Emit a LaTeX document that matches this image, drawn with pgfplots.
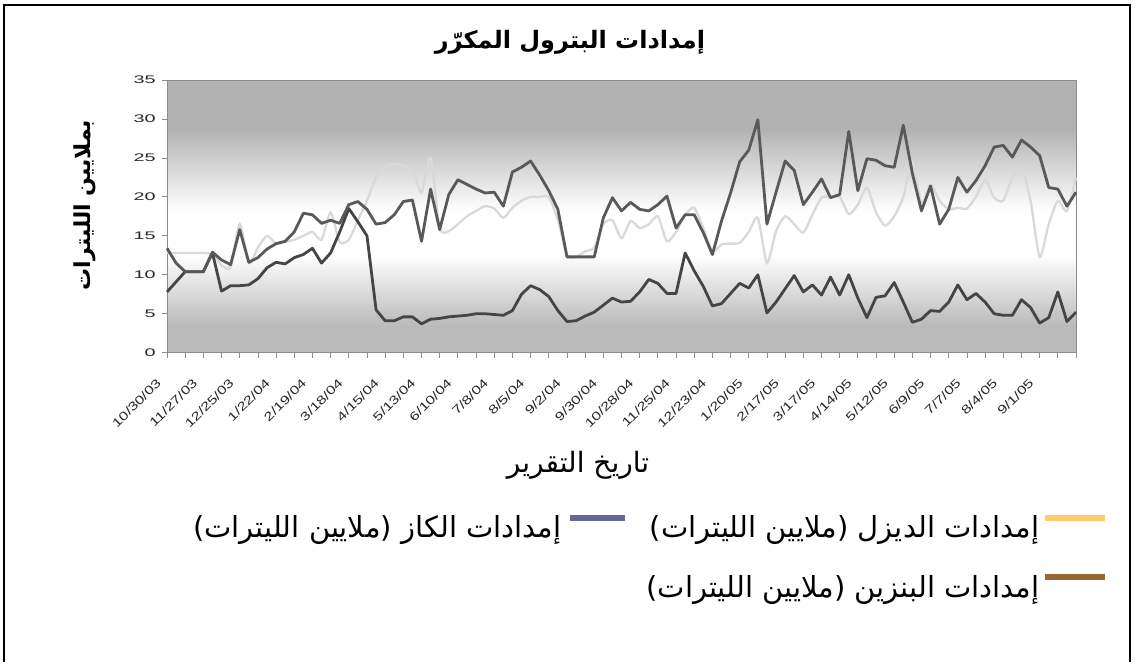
\documentclass[border=0pt]{standalone}
\usepackage{pgfplots}
\pgfplotsset{compat=1.18}
\usepackage{pgfplotstable}
\usepackage{fontspec}
\setmainfont{Liberation Sans}
\newfontfamily\arabicfont[Script=Arabic]{DejaVu Sans}
\TeXXeTstate=1

\definecolor{bgtop}{gray}{0.70}
\definecolor{bgbot}{gray}{0.73}
\definecolor{bgwhite}{gray}{1}
\definecolor{lightln}{gray}{0.85}
\definecolor{kerln}{gray}{0.27}
\definecolor{gasln}{gray}{0.35}
\definecolor{dieselc}{HTML}{FFCC66}
\definecolor{kerc}{HTML}{666699}
\definecolor{gasc}{HTML}{996633}
\definecolor{axgray}{gray}{0.55}
\definecolor{ticktxt}{gray}{0.15}

\pgfdeclareverticalshading{plotbg}{100bp}{color(0bp)=(bgbot); color(25bp)=(bgbot); color(30bp)=(bgbot); color(43bp)=(bgwhite); color(51bp)=(bgwhite); color(66bp)=(bgtop); color(75bp)=(bgtop); color(100bp)=(bgtop)}

% week, diesel, kerosene, gasoline
\pgfplotstableread{
w diesel kero gas
0 12.8 7.8 13.4
1 12.8 9.1 11.5
2 12.8 10.4 10.4
3 12.8 10.4 10.4
4 12.8 10.4 10.4
5 12.6 12.8 12.9
6 11.2 7.9 11.9
7 11.0 8.6 11.3
8 16.5 8.6 15.8
9 11.5 8.7 11.6
10 13.5 9.5 12.2
11 15.0 10.9 13.3
12 14.0 11.6 14.0
13 14.2 11.4 14.3
14 14.5 12.2 15.5
15 15.0 12.6 17.9
16 15.5 13.4 17.7
17 14.5 11.5 16.6
18 18.0 12.8 17.0
19 14.2 15.5 16.6
20 14.5 18.5 19.0
21 17.0 16.8 19.4
22 19.5 15.0 18.4
23 22.5 5.5 16.5
24 24.0 4.1 16.7
25 24.2 4.1 17.7
26 24.0 4.6 19.4
27 23.5 4.6 19.6
28 20.6 3.7 14.3
29 25.0 4.3 21.0
30 16.0 4.4 15.8
31 15.6 4.6 20.3
32 16.5 4.7 22.2
33 17.5 4.8 21.6
34 18.2 5.0 21.0
35 18.8 5.0 20.5
36 18.5 4.9 20.6
37 17.3 4.8 18.8
38 18.6 5.4 23.2
39 19.5 7.5 23.8
40 20.0 8.6 24.6
41 20.0 8.1 22.8
42 20.0 7.2 20.8
43 17.0 5.4 18.4
44 12.5 4.0 12.3
45 12.3 4.1 12.3
46 13.0 4.7 12.3
47 13.5 5.2 12.3
48 16.5 6.1 17.3
49 17.0 7.0 19.9
50 14.7 6.5 18.2
51 16.9 6.6 19.3
52 16.0 7.8 18.4
53 16.5 9.4 18.2
54 17.5 8.9 19.0
55 14.3 7.6 20.1
56 15.5 7.6 16.0
57 17.7 12.8 17.7
58 18.6 10.5 17.7
59 16.0 8.5 15.4
60 13.0 6.0 12.6
61 13.9 6.3 16.9
62 14.0 7.6 20.5
63 14.1 8.9 24.5
64 15.5 8.3 26.0
65 17.3 10.0 29.9
66 11.5 5.1 16.5
67 15.6 6.5 20.6
68 17.5 8.2 24.6
69 16.5 9.9 23.4
70 15.4 7.8 19.0
71 17.7 8.7 20.6
72 19.9 7.4 22.3
73 20.0 9.7 19.9
74 20.0 7.4 20.3
75 17.8 10.0 28.4
76 19.0 7.0 20.8
77 21.2 4.5 24.9
78 18.0 7.1 24.7
79 16.3 7.3 24.0
80 17.5 9.0 23.8
81 20.0 6.5 29.2
82 24.5 3.9 23.0
83 19.2 4.3 18.2
84 21.6 5.4 21.4
85 19.5 5.3 16.5
86 18.4 6.5 18.4
87 18.6 8.7 22.5
88 18.5 6.8 20.6
89 20.0 7.6 22.1
90 22.2 6.5 24.0
91 19.9 5.0 26.4
92 19.5 4.8 26.6
93 22.5 4.8 25.1
94 23.8 6.8 27.3
95 19.5 5.8 26.4
96 12.3 3.8 25.3
97 16.5 4.5 21.2
98 19.5 7.8 21.0
99 18.2 4.0 18.8
100 22.5 5.2 20.6
}\datatable

\begin{document}
\begin{tikzpicture}[x=1pt,y=1pt]
\useasboundingbox (0,0) rectangle (1135,662);
\draw[black,line width=1.2pt] (4,0) -- (4,657) -- (1130,657) -- (1130,0);

\begin{axis}[
  at={(167pt,309.3pt)}, anchor=south west,
  scale only axis, width=909pt, height=272.7pt,
  xmin=0, xmax=100, ymin=0, ymax=35,
  axis background/.style={shading=plotbg},
  axis line style={axgray, line width=0.8pt},
  tick align=outside, xtick pos=lower, ytick pos=left,
  major tick length=5pt, minor tick length=5pt,
  tick style={axgray, line width=0.8pt},
  ytick={0,5,...,35},
  xtick={0,4,...,96},
  minor xtick={2,6,...,98,100},
  xticklabels={10/30/03,11/27/03,12/25/03,1/22/04,2/19/04,3/18/04,4/15/04,5/13/04,6/10/04,7/8/04,8/5/04,9/2/04,9/30/04,10/28/04,11/25/04,12/23/04,1/20/05,2/17/05,3/17/05,4/14/05,5/12/05,6/9/05,7/7/05,8/4/05,9/1/05},
  xticklabel style={font=\fontsize{12}{13}\selectfont, text=ticktxt, xshift=-5pt, yshift=-20pt, rotate=45, xscale=1.35, anchor=east},
  yticklabel style={font=\fontsize{11}{12}\selectfont, text=ticktxt, xshift=0pt, xscale=1.8, anchor=east},
  /pgf/number format/assume math mode=true,
  clip=false,
]
\addplot[lightln, line width=2.3pt, smooth, tension=0.4] table[x=w, y=diesel] {\datatable};
\addplot[kerln, line width=2.8pt, line join=round] table[x=w, y=kero] {\datatable};
\addplot[gasln, line width=2.8pt, line join=round] table[x=w, y=gas] {\datatable};
\end{axis}

% title and axis titles
\node at (570,620) {\fontsize{24}{28}\selectfont\arabicfont\bfseries\beginR إمدادات البترول المكرّر\endR};
\node at (578,197) {\fontsize{28}{32}\selectfont\arabicfont\beginR تاريخ التقرير\endR};
\node[rotate=90] at (85,457) {\fontsize{22}{26}\selectfont\arabicfont\bfseries\beginR بملايين الليترات\endR};

% legend
\fill[dieselc] (1045,141) rectangle (1105,147);
\node[anchor=east] at (1043,132) {\fontsize{29}{33}\selectfont\arabicfont\beginR إمدادات الديزل (ملايين الليترات)\endR};
\fill[kerc] (570,141) rectangle (625,147);
\node[anchor=east] at (565,132) {\fontsize{29}{33}\selectfont\arabicfont\beginR إمدادات الكاز (ملايين الليترات)\endR};
\fill[gasc] (1045,82) rectangle (1105,88);
\node[anchor=east] at (1043,72) {\fontsize{29}{33}\selectfont\arabicfont\beginR إمدادات البنزين (ملايين الليترات)\endR};
\end{tikzpicture}
\end{document}
